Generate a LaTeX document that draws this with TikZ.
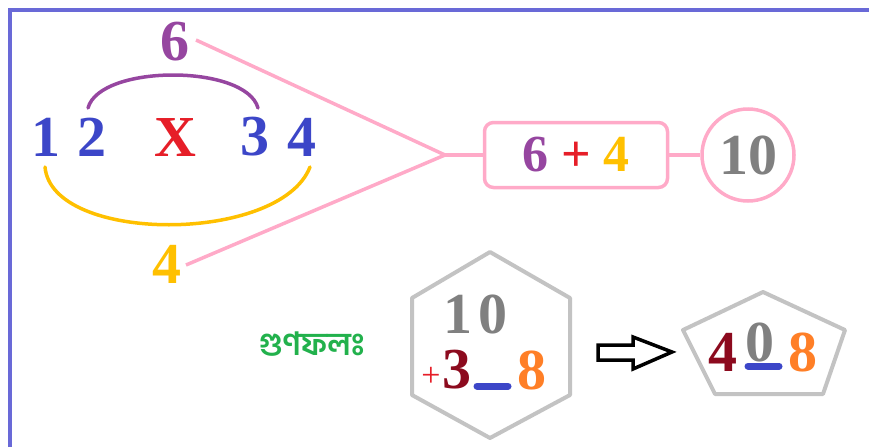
\documentclass[tikz,border=0pt]{standalone}
\usepackage{fontspec}
\setmainfont{Liberation Serif}
\newfontfamily\bnfont[Script=Bengali]{Hind Siliguri}
\definecolor{cpurple}{RGB}{150,70,160}
\definecolor{cblue}{RGB}{60,70,200}
\definecolor{cred}{RGB}{230,30,40}
\definecolor{cyellow}{RGB}{255,192,0}
\definecolor{cpink}{RGB}{255,170,200}
\definecolor{cgray}{RGB}{128,128,128}
\definecolor{cshape}{RGB}{195,195,195}
\definecolor{cmaroon}{RGB}{140,10,30}
\definecolor{corange}{RGB}{255,127,39}
\definecolor{cgreen}{RGB}{34,177,76}
\definecolor{cborder}{RGB}{105,105,215}
\begin{document}
\begin{tikzpicture}[x=1pt,y=-1pt,
  dig/.style={inner sep=0pt, font=\fontsize{58}{60}\selectfont\bfseries},
  pinkline/.style={draw=cpink, line width=3.5pt},
  shapeline/.style={draw=cshape, line width=4pt, line join=round},
  bar/.style={draw=cblue, line width=7pt, line cap=round},
  arc/.style={line width=3.5pt, line cap=round}]
\useasboundingbox (0,0) rectangle (869,447);
% frame
\draw[cborder, line width=3.5pt] (10,447) -- (10,10) -- (869,10);
% top row
\node[dig, text=cpurple] (six) at (175,42) {6};
\node[dig, text=cblue] (d1) at (46,137) {1};
\node[dig, text=cblue] (d2) at (92,137) {2};
\node[dig, text=cred] (x) at (175,138) {X};
\node[dig, text=cblue] (d3) at (255,137) {3};
\node[dig, text=cblue] (d4) at (302,137) {4};
\node[dig, text=cyellow] (four) at (167,264) {4};
% arcs
\draw[arc, cpurple] (88,108) .. controls (100,64) and (246,64) .. (258,108);
\draw[arc, cyellow] (45,167) .. controls (52,244) and (280,244) .. (310,167);
% pink connectors
\coordinate (s6) at (196,40);
\coordinate (s4) at (186,265);
\coordinate (J) at (445,155);
\node[draw=cpink, line width=3.5pt, rounded corners=9pt, minimum width=183pt, minimum height=65pt,
  inner sep=0pt, font=\fontsize{52}{54}\selectfont\bfseries] (box) at (576,155)
  {\textcolor{cpurple}{6} \textcolor{cred}{+} \textcolor{cyellow}{4}};
\node[draw=cpink, line width=3.5pt, circle, minimum size=92pt, inner sep=0pt,
  font=\fontsize{58}{60}\selectfont\bfseries, text=cgray] (ten) at (748,155) {10};
\draw[pinkline] (s6) -- (J);
\draw[pinkline] (s4) -- (J);
\draw[pinkline] (J) -- (box.west);
\draw[pinkline] (box.east) -- (ten.west);
% label
\node[text=cgreen, inner sep=0pt, font=\bnfont\bfseries\fontsize{32}{34}\selectfont] (gun) at (312,344) {গুণফলঃ};
% hexagon
\draw[shapeline] (490,252) -- (570,298) -- (570,395) -- (490,438) -- (412,395) -- (412,298) -- cycle;
\node[dig, text=cgray] (h1) at (458,314) {1};
\node[dig, text=cgray] (h0) at (493,314) {0};
\node[inner sep=0pt, text=cred, font=\fontsize{34}{36}\selectfont] (plus) at (431,377) {+};
\node[dig, text=cmaroon] (h3) at (457,370) {3};
\node[dig, text=corange] (h8) at (532,370) {8};
\coordinate (b1a) at (477,386);
\coordinate (b1b) at (508,386);
\draw[bar] (b1a) -- (b1b);
% arrow
\draw[black, line width=3.5pt, line join=miter] (598,345) -- (633,345) -- (633,337) -- (672,352) -- (633,369) -- (633,360) -- (598,360) -- cycle;
% pentagon
\draw[shapeline] (763,292) -- (845,330) -- (823,394) -- (715,394) -- (683,330) -- cycle;
\node[dig, text=cmaroon] (p4) at (723,352) {4};
\node[dig, text=cgray] (p0) at (760,342) {0};
\node[dig, text=corange] (p8) at (803,352) {8};
\coordinate (b2a) at (748,366);
\coordinate (b2b) at (779,366);
\draw[bar] (b2a) -- (b2b);
\end{tikzpicture}
\end{document}
